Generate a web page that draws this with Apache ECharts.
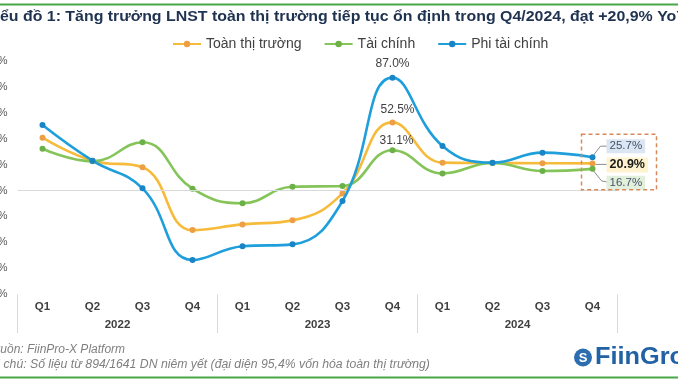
<!DOCTYPE html>
<html><head><meta charset="utf-8">
<script src="https://cdn.jsdelivr.net/npm/echarts@6/dist/echarts.min.js"></script>
<style>html,body{margin:0;padding:0;background:#fff;overflow:hidden}#c{width:678px;height:381px}</style>
</head><body><div id="c"></div>
<script>
const years = ['2022', '2023', '2024'];
const quarters = ['Q1', 'Q2', 'Q3', 'Q4'];
const yMin = -80, yMax = 100, yInterval = 20;
const seriesNames = ['Toàn thị trường', 'Tài chính', 'Phi tài chính'];
const toanThiTruong = [40.7, 23.0, 17.9, -30.5, -26.1, -23.0, -2.2, 52.5, 21.5, 21.2, 21.0, 20.9];
const taiChinh      = [32.2, 22.5, 37.2, 1.4, -9.8, 2.9, 3.5, 31.1, 13.2, 21.2, 15.0, 16.7];
const phiTaiChinh   = [50.5, 23.0, 1.7, -53.6, -43.0, -41.5, -8.1, 87.0, 34.4, 21.5, 29.2, 25.7];
const titleText = 'Biểu đồ 1: Tăng trưởng LNST toàn thị trường tiếp tục ổn định trong Q4/2024, đạt +20,9% YoY';
const sourceText = 'Nguồn: FiinPro-X Platform';
const noteText = 'Ghi chú: Số liệu từ 894/1641 DN niêm yết (đại diện 95,4% vốn hóa toàn thị trường)';
const brandText = 'FiinGroup';

const FONT = 'Arial, "Liberation Sans", sans-serif';
const categories = years.flatMap(y => quarters.map(q => q + ' ' + y));
const peakIdx = 7;
const lastIdx = categories.length - 1;
const fmt = v => v.toFixed(1) + '%';

const styles = [
  { line: '#F7BB3C', mark: '#EE9F45', peakDist: 4, peakOff: [5, 0],
    end: { bg: '#FFF3CF', color: '#1a1a1a', weight: 'bold', size: 12.5, off: [0, 1.5] } },
  { line: '#85C459', mark: '#6BB148', peakDist: 0, peakOff: [4, 0],
    end: { bg: '#E2EFDA', color: '#44546A', weight: 'normal', size: 11.5, off: [0, 14] } },
  { line: '#1E9FDB', mark: '#1985C6', peakDist: 5, peakOff: [0, 0],
    end: { bg: '#DCE6F2', color: '#44546A', weight: 'normal', size: 11.5, off: [0, -11] } }
];
const values = [toanThiTruong, taiChinh, phiTaiChinh];

const series = values.map((arr, si) => {
  const st = styles[si];
  return {
    name: seriesNames[si],
    type: 'line',
    smooth: 0.45,
    symbol: 'circle',
    symbolSize: 6,
    z: 3 + si,
    lineStyle: { color: st.line, width: 2.6 },
    itemStyle: { color: st.mark },
    data: arr.map((v, i) => {
      if (i === peakIdx) {
        return { value: v, label: { show: true, position: 'top', distance: st.peakDist, offset: st.peakOff,
          formatter: p => fmt(p.value), color: '#404040', fontSize: 12, fontFamily: FONT } };
      }
      if (i === lastIdx) {
        return { value: v, label: { show: true, position: 'right', distance: 11, offset: st.end.off,
          formatter: p => fmt(p.value), color: st.end.color, fontWeight: st.end.weight,
          fontSize: st.end.size, fontFamily: FONT, backgroundColor: st.end.bg, padding: [1, 3] } };
      }
      return v;
    }),
    markLine: si === 0 ? { silent: true, symbol: 'none', label: { show: false }, animation: false,
      lineStyle: { color: '#D9D9D9', width: 1, type: 'solid' }, data: [{ yAxis: 0 }] } : undefined
  };
});

const chart = echarts.init(document.getElementById('c'), null, { renderer: 'canvas' });
chart.setOption({
  animation: false,
  textStyle: { fontFamily: FONT },
  grid: { left: 17.5, right: 60.5, top: 60.8, bottom: 86.7, containLabel: false, outerBoundsMode: 'none' },
  legend: {
    data: seriesNames, left: 172, top: 37, itemWidth: 28, itemHeight: 8, itemGap: 22, padding: 0,
    textStyle: { fontSize: 14, color: '#404040', fontFamily: FONT }
  },
  xAxis: [
    { type: 'category', data: categories, boundaryGap: true,
      axisLine: { show: false }, axisTick: { show: false }, splitLine: { show: false },
      axisLabel: { interval: 0, margin: 7, formatter: v => v.split(' ')[0],
        color: '#404040', fontSize: 11.5, fontWeight: 'bold', fontFamily: FONT } },
    { type: 'category', data: years, boundaryGap: true, position: 'bottom',
      axisLine: { show: false }, splitLine: { show: false },
      axisTick: { show: true, length: 39, lineStyle: { color: '#D9D9D9', width: 1 } },
      axisLabel: { interval: 0, margin: 25, color: '#404040', fontSize: 11.5, fontWeight: 'bold', fontFamily: FONT } }
  ],
  yAxis: {
    type: 'value', min: yMin, max: yMax, interval: yInterval,
    axisLine: { show: false }, axisTick: { show: false }, splitLine: { show: false },
    axisLabel: { formatter: '{value}%', margin: 10, color: '#595959', fontSize: 11, fontFamily: FONT }
  },
  series: series
});

const px = (i, v) => chart.convertToPixel({ xAxisIndex: 0, yAxisIndex: 0 }, [i, v]);
const pO = px(lastIdx, toanThiTruong[lastIdx]);
const pG = px(lastIdx, taiChinh[lastIdx]);
const pB = px(lastIdx, phiTaiChinh[lastIdx]);
const leader = '#8C8C8C';

chart.setOption({
  graphic: [
    { id: 'topline', type: 'rect', shape: { x: 0, y: 3.5, width: 678, height: 2 }, style: { fill: '#48A848' }, silent: true },
    { id: 'botline', type: 'rect', shape: { x: 0, y: 376.5, width: 678, height: 2 }, style: { fill: '#48A848' }, silent: true },
    { id: 'title', type: 'text', x: -16, y: 17, scaleX: 1.137, silent: true,
      style: { text: titleText, font: 'bold 14px ' + FONT, fill: '#1F3250', textVerticalAlign: 'middle' } },
    { id: 'src', type: 'text', x: -15, y: 350, silent: true,
      style: { text: sourceText, font: 'italic 12px ' + FONT, fill: '#7F7F7F', textVerticalAlign: 'middle' } },
    { id: 'note', type: 'text', x: -19, y: 365, scaleX: 1.02, silent: true,
      style: { text: noteText, font: 'italic 12px ' + FONT, fill: '#7F7F7F', textVerticalAlign: 'middle' } },
    { id: 'logoC', type: 'circle', shape: { cx: 583, cy: 357.5, r: 9 }, style: { fill: '#2C6DAF' }, silent: true },
    { id: 'logoS', type: 'text', x: 583, y: 358, silent: true,
      style: { text: 'S', font: 'bold 13px ' + FONT, fill: '#ffffff', textAlign: 'center', textVerticalAlign: 'middle' } },
    { id: 'brand', type: 'text', x: 595, y: 357.5, scaleX: 1.1, silent: true,
      style: { text: brandText, font: 'bold 23px ' + FONT, fill: '#2162A4', textVerticalAlign: 'middle' } },
    { id: 'box', type: 'rect', z: 10, silent: true,
      shape: { x: pB[0] - 11, y: pB[1] - 23, width: 75, height: (pG[1] + 21) - (pB[1] - 23) },
      style: { fill: 'none', stroke: '#D98A5C', lineWidth: 1.5, lineDash: [4, 3] } },
    { id: 'ldB', type: 'polyline', z: 10, silent: true,
      shape: { points: [[pB[0] + 1, pB[1] - 2], [pB[0] + 8, pB[1] - 11], [pB[0] + 14, pB[1] - 11]] },
      style: { fill: 'none', stroke: leader, lineWidth: 1 } },
    { id: 'ldO', type: 'polyline', z: 10, silent: true,
      shape: { points: [[pO[0] + 3, pO[1] + 1], [pO[0] + 14, pO[1] + 1]] },
      style: { fill: 'none', stroke: leader, lineWidth: 1 } },
    { id: 'ldG', type: 'polyline', z: 10, silent: true,
      shape: { points: [[pG[0] + 1, pG[1] + 2], [pG[0] + 9, pG[1] + 12], [pG[0] + 14, pG[1] + 13]] },
      style: { fill: 'none', stroke: leader, lineWidth: 1 } }
  ]
});
</script>
</body></html>
